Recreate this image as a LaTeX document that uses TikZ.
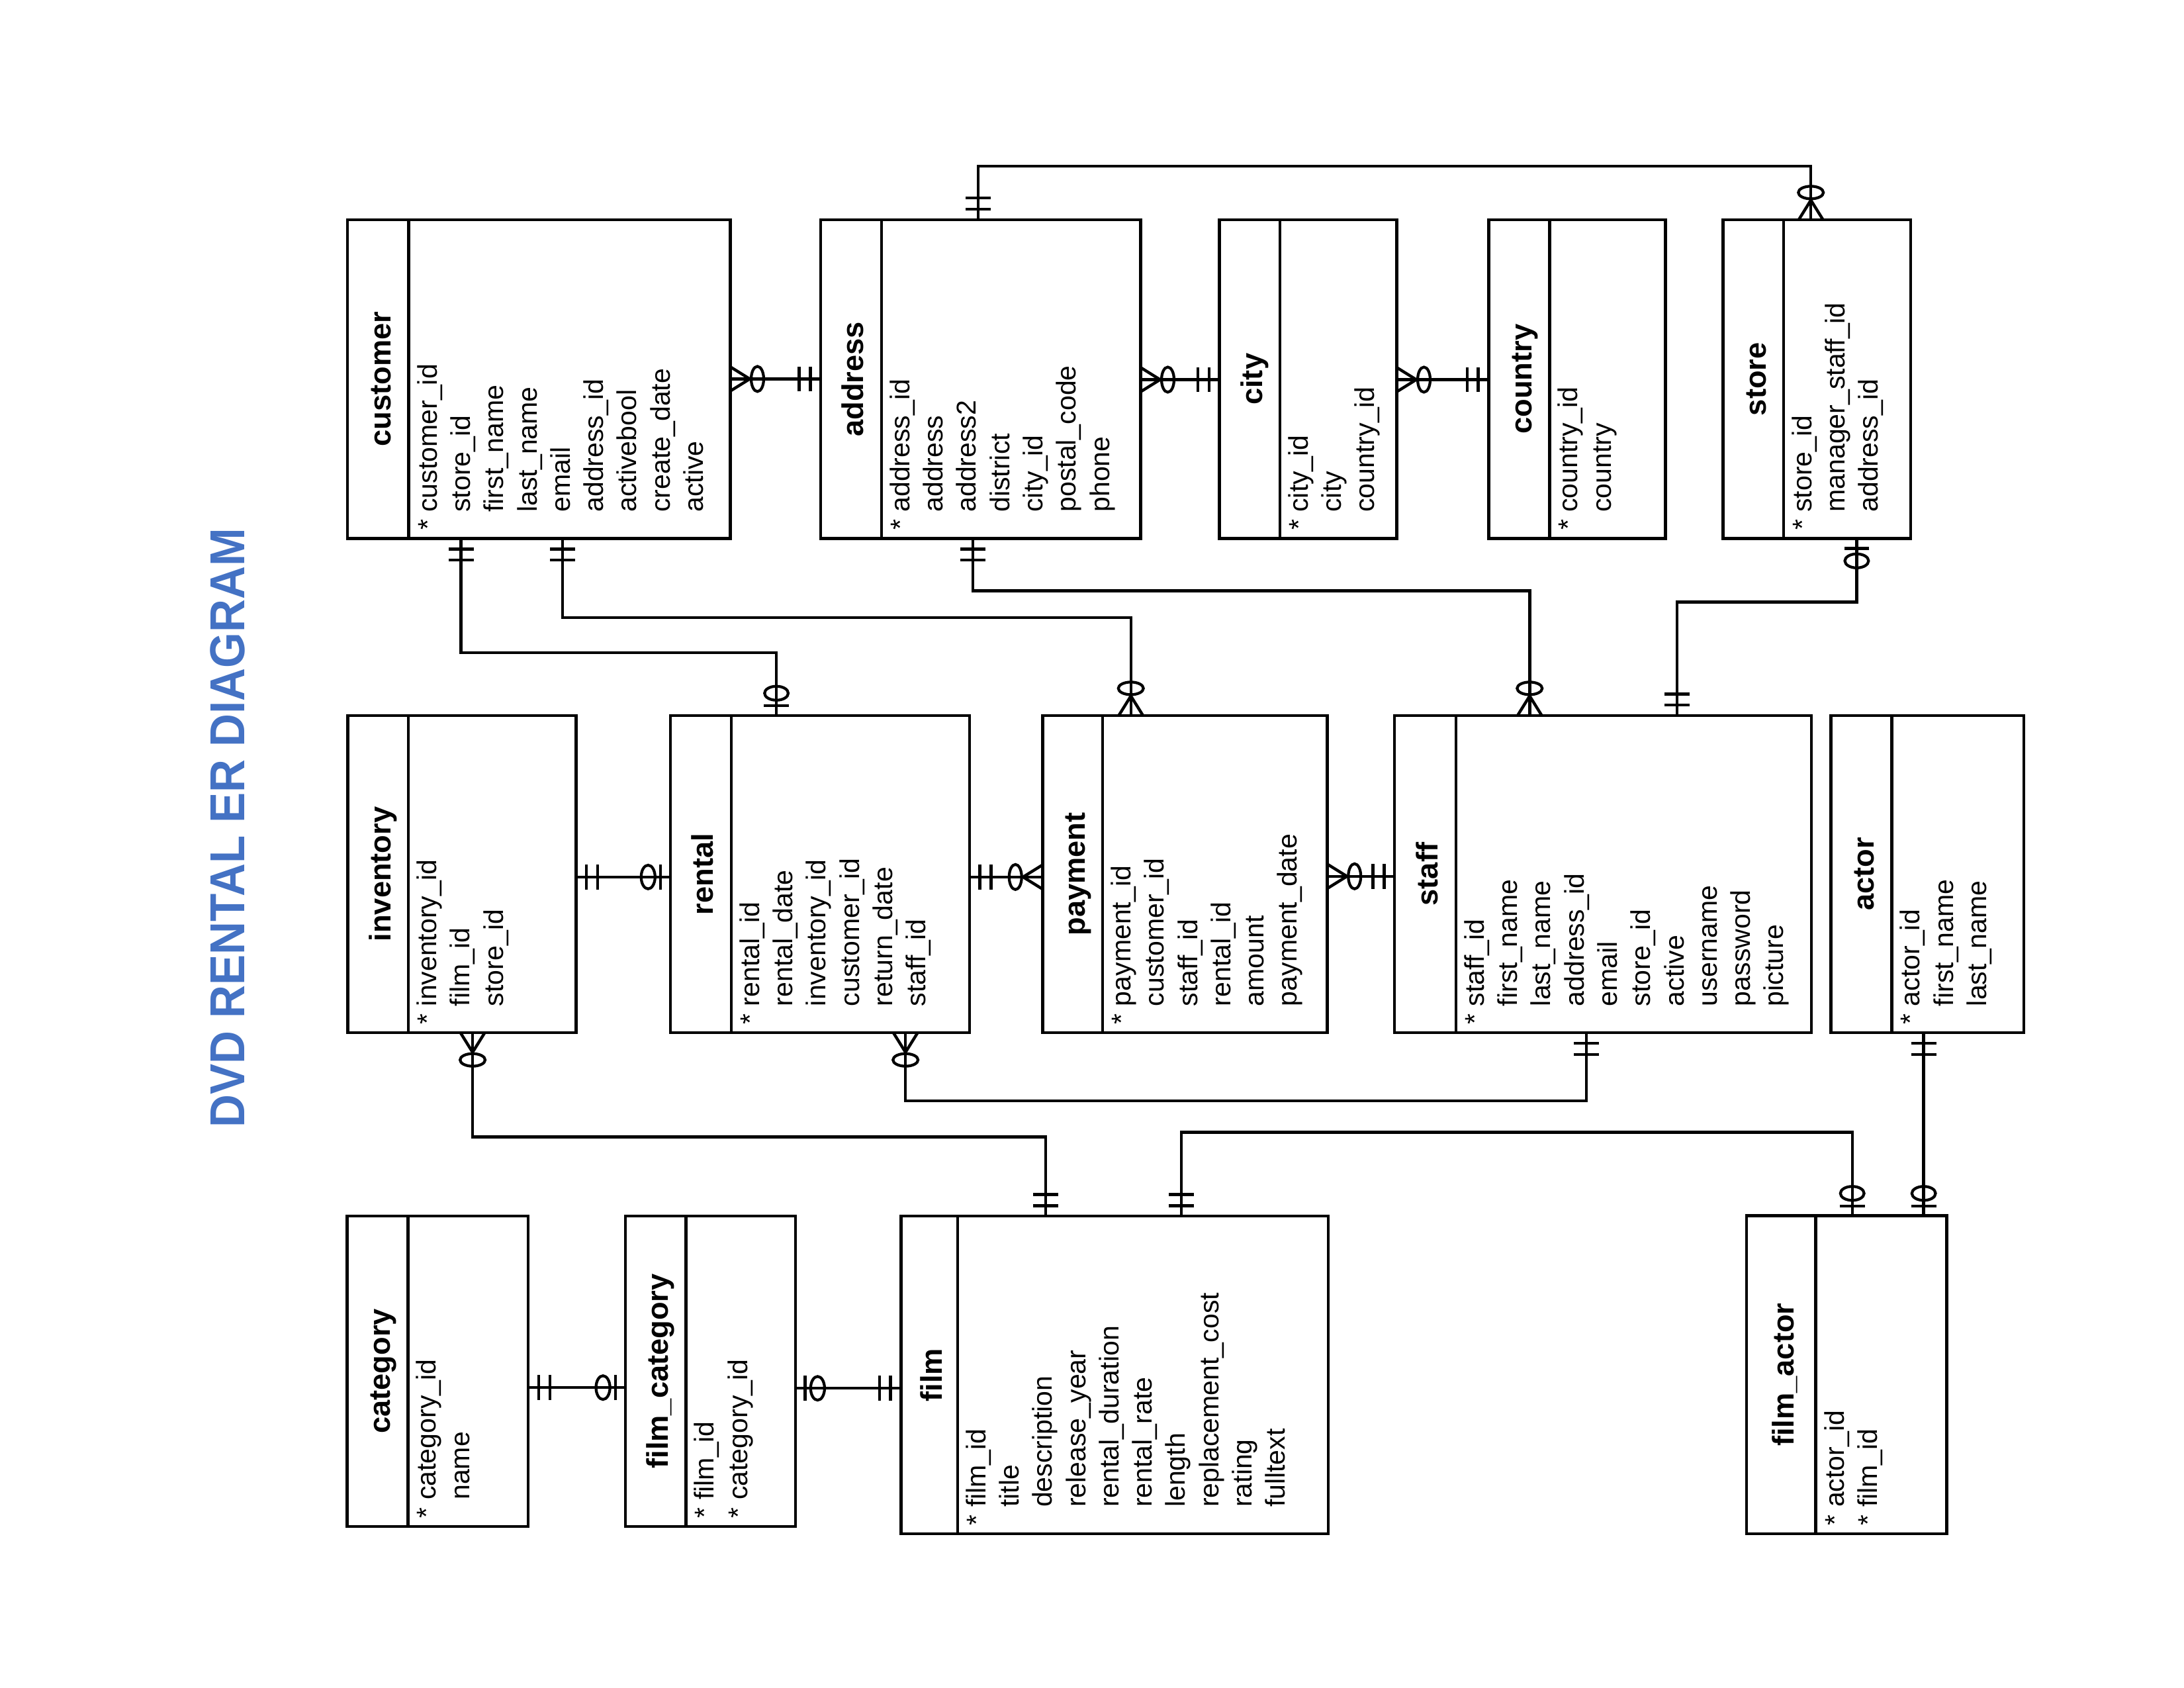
\documentclass[tikz,border=0pt]{standalone}
\usepackage{fontspec}
\setmainfont{Liberation Sans}
\usepackage{graphicx}
\definecolor{titleblue}{RGB}{68,114,196}
\newcommand\pk{*\ }
\newcommand\nk{\phantom{*}\ }
\tikzset{
  tbl/.style={draw, line width=2.1pt, inner sep=0pt, outer sep=0pt},
  hdr/.style={rotate=90, anchor=base, inner sep=0pt, font=\bfseries\fontsize{21.5}{24}\selectfont},
  flds/.style={rotate=90, anchor=north west, inner sep=0pt, align=left, font=\fontsize{19.5}{23.9}\selectfont},
  conn/.style={line width=2.1pt},
  mone/.pic={\draw[line width=2.1pt] (7.5,-9)--(7.5,9) (15.5,-9)--(15.5,9);},
  zone/.pic={\draw[line width=2.1pt] (7,-9)--(7,9);
             \draw[line width=2pt] (16,0) ellipse [x radius=5pt, y radius=8.5pt];},
  zmany/.pic={\draw[line width=2.1pt] (0,-8.7)--(14,0)--(0,8.7);
              \draw[line width=2pt] (19.5,0) ellipse [x radius=4.5pt, y radius=9pt];},
}
\newcommand\ertable[8]{%
  \pgfmathsetmacro\ertw{#4-#2}%
  \pgfmathsetmacro\erth{#5-#3}%
  \node[tbl, minimum width=\ertw pt, minimum height=\erth pt, anchor=north west] (#1) at (#2,#3) {};
  \draw[conn] (#1.north west -| #6,0) -- (#1.south west -| #6,0);
  \node[hdr] (#1-h) at ({(#2+#6)/2+9},{(#3+#5)/2}) {#7};
  \node[flds] (#1-f) at ({#6+5},{#5-5}) {#8};
}
\begin{document}
\begin{tikzpicture}[x=1pt,y=-1pt,line width=2.1pt]
\path[use as bounding box, fill=white] (0,0) rectangle (1568,1211.6);

\node[rotate=90, inner sep=0pt, text=titleblue] (title) at (163.5,594.2)
  {\resizebox{430pt}{24.6pt}{\bfseries DVD RENTAL ER DIAGRAM}};

% top row
\ertable{customer}{249.4}{157.7}{524.3}{386.6}{293.5}{customer}
  {\pk customer\_id\\\nk store\_id\\\nk first\_name\\\nk last\_name\\\nk email\\\nk address\_id\\\nk activebool\\\nk create\_date\\\nk active}
\ertable{address}{589.3}{157.7}{818.9}{386.6}{632.8}{address}
  {\pk address\_id\\\nk address\\\nk address2\\\nk district\\\nk city\_id\\\nk postal\_code\\\nk phone}
\ertable{city}{875.5}{157.7}{1002.8}{386.6}{918.8}{city}
  {\pk city\_id\\\nk city\\\nk country\_id}
\ertable{country}{1068.8}{157.7}{1195.7}{386.6}{1112.5}{country}
  {\pk country\_id\\\nk country}
\ertable{store}{1237.0}{157.7}{1371.8}{386.6}{1280.4}{store}
  {\pk store\_id\\\nk manager\_staff\_id\\\nk address\_id}

% middle row
\ertable{inventory}{249.6}{513.6}{413.6}{741.3}{293.2}{inventory}
  {\pk inventory\_id\\\nk film\_id\\\nk store\_id}
\ertable{rental}{481.3}{513.6}{696.0}{741.3}{524.9}{rental}
  {\pk rental\_id\\\nk rental\_date\\\nk inventory\_id\\\nk customer\_id\\\nk return\_date\\\nk staff\_id}
\ertable{payment}{748.5}{513.6}{953.0}{741.3}{791.6}{payment}
  {\pk payment\_id\\\nk customer\_id\\\nk staff\_id\\\nk rental\_id\\\nk amount\\\nk payment\_date}
\ertable{staff}{1001.2}{513.6}{1300.5}{741.3}{1045.2}{staff}
  {\pk staff\_id\\\nk first\_name\\\nk last\_name\\\nk address\_id\\\nk email\\\nk store\_id\\\nk active\\\nk username\\\nk password\\\nk picture}
\ertable{actor}{1314.4}{513.6}{1453.1}{741.3}{1358.2}{actor}
  {\pk actor\_id\\\nk first\_name\\\nk last\_name}

% bottom row
\ertable{category}{249.3}{872.9}{379.3}{1095.6}{292.9}{category}
  {\pk category\_id\\\nk name}
\ertable{filmcat}{448.9}{872.9}{571.0}{1095.6}{492.5}{film\_category}
  {\pk film\_id\\\pk category\_id}
\ertable{film}{646.9}{872.9}{953.6}{1100.9}{687.4}{film}
  {\pk film\_id\\\nk title\\\nk description\\\nk release\_year\\\nk rental\_duration\\\nk rental\_rate\\\nk length\\\nk replacement\_cost\\\nk rating\\\nk fulltext}
\ertable{filmactor}{1254.0}{872.6}{1397.6}{1100.9}{1303.6}{film\_actor}
  {\pk actor\_id\\\pk film\_id}

% straight connectors
\coordinate (r1a) at (customer.east |- 0,272);
\coordinate (r1b) at (address.west |- 0,272);
\draw[conn] (r1a) -- (r1b);
\pic[rotate=0] at (r1a) {zmany};
\pic[rotate=180] at (r1b) {mone};

\coordinate (r2a) at (address.east |- 0,272.5);
\coordinate (r2b) at (city.west |- 0,272.5);
\draw[conn] (r2a) -- (r2b);
\pic[rotate=0] at (r2a) {zmany};
\pic[rotate=180] at (r2b) {mone};

\coordinate (r3a) at (city.east |- 0,272.5);
\coordinate (r3b) at (country.west |- 0,272.5);
\draw[conn] (r3a) -- (r3b);
\pic[rotate=0] at (r3a) {zmany};
\pic[rotate=180] at (r3b) {mone};

\coordinate (r9a) at (inventory.east |- 0,629.5);
\coordinate (r9b) at (rental.west |- 0,629.5);
\draw[conn] (r9a) -- (r9b);
\pic[rotate=0] at (r9a) {mone};
\pic[rotate=180] at (r9b) {zone};

\coordinate (r10a) at (rental.east |- 0,629.5);
\coordinate (r10b) at (payment.west |- 0,629.5);
\draw[conn] (r10a) -- (r10b);
\pic[rotate=0] at (r10a) {mone};
\pic[rotate=180] at (r10b) {zmany};

\coordinate (r11a) at (payment.east |- 0,629);
\coordinate (r11b) at (staff.west |- 0,629);
\draw[conn] (r11a) -- (r11b);
\pic[rotate=0] at (r11a) {zmany};
\pic[rotate=180] at (r11b) {mone};

\coordinate (r16a) at (category.east |- 0,996);
\coordinate (r16b) at (filmcat.west |- 0,996);
\draw[conn] (r16a) -- (r16b);
\pic[rotate=0] at (r16a) {mone};
\pic[rotate=180] at (r16b) {zone};

\coordinate (r17a) at (filmcat.east |- 0,996.5);
\coordinate (r17b) at (film.west |- 0,996.5);
\draw[conn] (r17a) -- (r17b);
\pic[rotate=0] at (r17a) {zone};
\pic[rotate=180] at (r17b) {mone};

\coordinate (r15a) at (actor.south -| 1381.1,0);
\coordinate (r15b) at (filmactor.north -| 1381.1,0);
\draw[conn] (r15a) -- (r15b);
\pic[rotate=270] at (r15a) {mone};
\pic[rotate=90] at (r15b) {zone};

% elbow connectors
\coordinate (r4a) at (address.north -| 702.3,0);
\coordinate (r4b) at (store.north -| 1300.1,0);
\draw[conn] (r4a) -- (r4a |- 0,119.3) -- (r4b |- 0,119.3) -- (r4b);
\pic[rotate=90] at (r4a) {mone};
\pic[rotate=90] at (r4b) {zmany};

\coordinate (r5a) at (customer.south -| 331,0);
\coordinate (r5b) at (rental.north -| 557.4,0);
\draw[conn] (r5a) -- (r5a |- 0,468.6) -- (r5b |- 0,468.6) -- (r5b);
\pic[rotate=270] at (r5a) {mone};
\pic[rotate=90] at (r5b) {zone};

\coordinate (r6a) at (customer.south -| 403.8,0);
\coordinate (r6b) at (payment.north -| 811.9,0);
\draw[conn] (r6a) -- (r6a |- 0,443.2) -- (r6b |- 0,443.2) -- (r6b);
\pic[rotate=270] at (r6a) {mone};
\pic[rotate=90] at (r6b) {zmany};

\coordinate (r7a) at (address.south -| 698.5,0);
\coordinate (r7b) at (staff.north -| 1098.2,0);
\draw[conn] (r7a) -- (r7a |- 0,424) -- (r7b |- 0,424) -- (r7b);
\pic[rotate=270] at (r7a) {mone};
\pic[rotate=90] at (r7b) {zmany};

\coordinate (r8a) at (store.south -| 1333,0);
\coordinate (r8b) at (staff.north -| 1203.9,0);
\draw[conn] (r8a) -- (r8a |- 0,432.2) -- (r8b |- 0,432.2) -- (r8b);
\pic[rotate=270] at (r8a) {zone};
\pic[rotate=90] at (r8b) {mone};

\coordinate (r12a) at (inventory.south -| 339.3,0);
\coordinate (r12b) at (film.north -| 750.8,0);
\draw[conn] (r12a) -- (r12a |- 0,816) -- (r12b |- 0,816) -- (r12b);
\pic[rotate=270] at (r12a) {zmany};
\pic[rotate=90] at (r12b) {mone};

\coordinate (r13a) at (rental.south -| 650.1,0);
\coordinate (r13b) at (staff.south -| 1139,0);
\draw[conn] (r13a) -- (r13a |- 0,790.3) -- (r13b |- 0,790.3) -- (r13b);
\pic[rotate=270] at (r13a) {zmany};
\pic[rotate=270] at (r13b) {mone};

\coordinate (r14a) at (film.north -| 848,0);
\coordinate (r14b) at (filmactor.north -| 1329.8,0);
\draw[conn] (r14a) -- (r14a |- 0,812.7) -- (r14b |- 0,812.7) -- (r14b);
\pic[rotate=90] at (r14a) {mone};
\pic[rotate=90] at (r14b) {zone};
\end{tikzpicture}
\end{document}
